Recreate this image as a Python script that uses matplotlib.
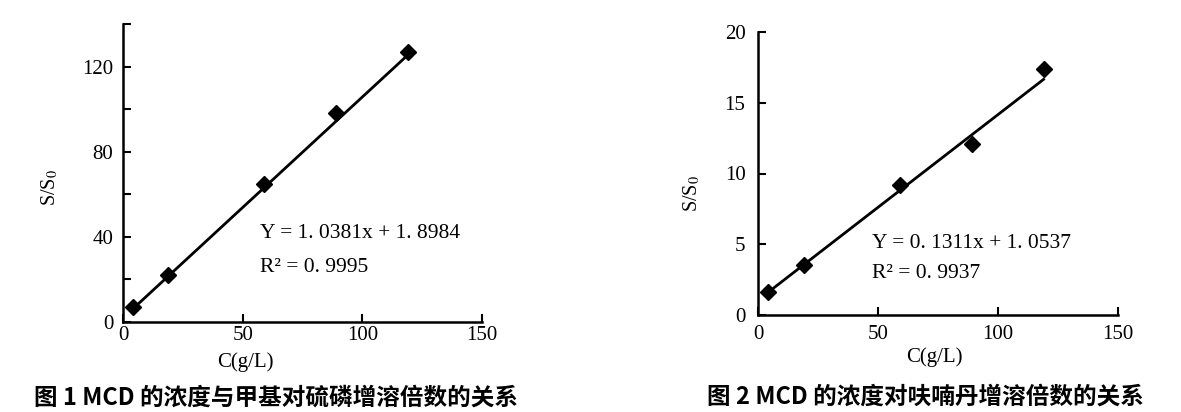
import matplotlib
matplotlib.use("Agg")
import numpy as np
import matplotlib.pyplot as plt

# Fonts: serif for numbers, bold CJK for the captions
plt.rcParams['font.family'] = ['Liberation Serif', 'DejaVu Serif']
plt.rcParams['mathtext.fontset'] = 'stix'

# Data
conc = [4, 19, 59, 89, 119]                     # C (g/L)
ratio_parathion = [7, 22, 65, 98, 127]          # fig 1, S/S0
ratio_carbofuran = [1.6, 3.5, 9.2, 12.1, 17.4]  # fig 2, S/S0

# Regression lines printed on the figures
fit1 = (1.0381, 1.8984)
fit2 = (0.1311, 1.0537)
eq1 = ["Y = 1. 0381x + 1. 8984", "R² = 0. 9995"]
eq2 = ["Y = 0. 1311x + 1. 0537", "R² = 0. 9937"]

caption1 = "图 1 MCD 的浓度与甲基对硫磷增溶倍数的关系"
caption2 = "图 2 MCD 的浓度对呋喃丹增溶倍数的关系"

W, H = 1181, 412
fig = plt.figure(figsize=(W / 100, H / 100), dpi=100)

# axes placed in pixel units of the reference
ax1 = fig.add_axes([123 / W, (H - 322) / H, 359 / W, 298 / H])
ax2 = fig.add_axes([758 / W, (H - 315) / H, 360 / W, 283 / H])


def style_axis(ax):
    for side in ["top", "right"]:
        ax.spines[side].set_visible(False)
    for side in ["left", "bottom"]:
        ax.spines[side].set_linewidth(1.8)
    ax.tick_params(which="both", direction="in", length=6, width=1.5,
                   labelsize=15)
    ax.set_xlim(0, 150)
    ax.set_xticks([0, 50, 100, 150])


# ---- figure 1 ----
style_axis(ax1)
ax1.set_ylim(0, 140)
ax1.set_yticks([0, 40, 80, 120])
ax1.set_yticks([20, 60, 100, 140], minor=True)
ax1.tick_params(axis="y", pad=7)
ax1.tick_params(axis="x", pad=3)
x_line = np.array([conc[0], conc[-1]])
ax1.plot(x_line, fit1[0] * x_line + fit1[1], color="black", lw=2)
ax1.plot(conc, ratio_parathion, "D", color="black", ms=8)
ax1.set_xlabel("C(g/L)", fontsize=15)
ax1.xaxis.set_label_coords(0.34, -0.134)
ax1.xaxis.label.set_va("center")
ax1.set_ylabel("S/S$_0$", fontsize=14.5)
ax1.yaxis.set_label_coords(-0.203, 0.45)
ax1.yaxis.label.set_va("center")

# ---- figure 2 ----
style_axis(ax2)
ax2.set_ylim(0, 20)
ax2.set_yticks([0, 5, 10, 15, 20])
ax2.tick_params(axis="y", pad=9)
ax2.tick_params(axis="x", pad=7)
ax2.plot(x_line, fit2[0] * x_line + fit2[1], color="black", lw=2)
ax2.plot(conc, ratio_carbofuran, "D", color="black", ms=8)
ax2.set_xlabel("C(g/L)", fontsize=15)
ax2.xaxis.set_label_coords(0.49, -0.15)
ax2.xaxis.label.set_va("center")
ax2.set_ylabel("S/S$_0$", fontsize=14.5)
ax2.yaxis.set_label_coords(-0.183, 0.431)
ax2.yaxis.label.set_va("center")

# equation text, positions in reference pixels (y from top)
for txt, ypix in zip(eq1, [233, 268]):
    fig.text(260 / W, (H - ypix) / H, txt, fontsize=15.5, va="center", ha="left")
for txt, ypix in zip(eq2, [243, 274]):
    fig.text(872 / W, (H - ypix) / H, txt, fontsize=15.5, va="center", ha="left")

# captions
fig.text(34 / W, (H - 398) / H, caption1, fontsize=17, fontweight="bold",
         family=["Noto Sans CJK SC", "DejaVu Sans"], va="center", ha="left")
fig.text(707 / W, (H - 397) / H, caption2, fontsize=17, fontweight="bold",
         family=["Noto Sans CJK SC", "DejaVu Sans"], va="center", ha="left")

fig.savefig("out.png", dpi=100)
